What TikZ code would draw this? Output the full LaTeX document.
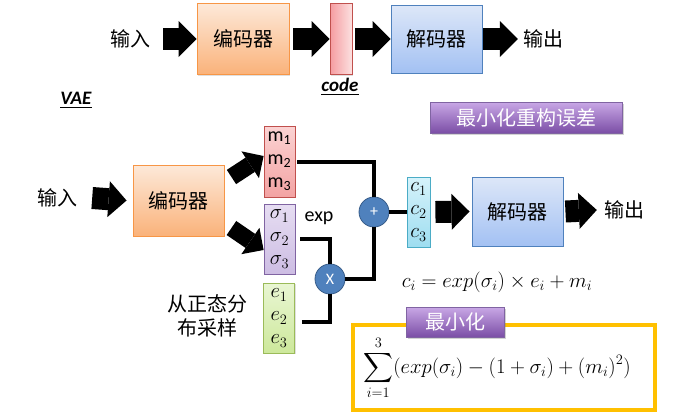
\documentclass[tikz,border=0pt]{standalone}
\usepackage{amsmath}
\usepackage{exscale}
\usepackage{fontspec}
\setmainfont{Carlito}
\newfontfamily\cjk{Noto Sans CJK SC}
\usetikzlibrary{arrows.meta,shadows}
\definecolor{encT}{HTML}{FDE9D9}
\definecolor{encBot}{HTML}{FAB27A}
\definecolor{encD}{HTML}{F79646}
\definecolor{decT}{HTML}{DDE7F8}
\definecolor{decBot}{HTML}{A3C1F3}
\definecolor{decD}{HTML}{4F81BD}
\definecolor{codeL}{HTML}{F59CA0}
\definecolor{codeR}{HTML}{FCE1E1}
\definecolor{codeD}{HTML}{C0504D}
\definecolor{mT}{HTML}{FBD3D3}
\definecolor{mBot}{HTML}{F3A3A3}
\definecolor{sT}{HTML}{E6DDF2}
\definecolor{sBot}{HTML}{CDBDE3}
\definecolor{sD}{HTML}{8064A2}
\definecolor{eT}{HTML}{E9F6D3}
\definecolor{eBot}{HTML}{CDE89B}
\definecolor{eD}{HTML}{9BBB59}
\definecolor{cT}{HTML}{D6F3FB}
\definecolor{cBot}{HTML}{9EDDF0}
\definecolor{cD}{HTML}{4BACC6}
\definecolor{circF}{HTML}{4F81BD}
\definecolor{circD}{HTML}{385D8A}
\definecolor{purT}{HTML}{C9A8E6}
\definecolor{purBot}{HTML}{7B4EA6}
\definecolor{purD}{HTML}{8064A2}
\definecolor{gold}{HTML}{FFC000}
\begin{document}
\begin{tikzpicture}[x=1pt,y=-1pt,
  zh/.style={font=\cjk\fontsize{20}{24}\selectfont, inner sep=0pt, align=center},
  lshadow/.style={drop shadow={opacity=0.25, shadow xshift=1.2pt, shadow yshift=-1.2pt}},
  encbox/.style={draw=encD, line width=0.9pt, top color=encT, bottom color=encBot, inner sep=0pt,
    font=\cjk\fontsize{20}{24}\selectfont, lshadow},
  decbox/.style={draw=decD, line width=0.9pt, top color=decT, bottom color=decBot, inner sep=0pt,
    font=\cjk\fontsize{20}{24}\selectfont, lshadow},
  vecbox/.style={line width=0.8pt, inner sep=0pt, align=center, minimum height=70pt,
    font=\fontsize{20}{23}\selectfont, lshadow},
  opnode/.style={circle, draw=circD, line width=0.8pt, fill=circF, text=white, inner sep=0pt,
    minimum size=30pt},
  tagbox/.style={draw=purD, line width=0.6pt, top color=purT, bottom color=purBot, text=white,
    inner sep=0pt, font=\cjk\fontsize{20}{24}\selectfont,
    drop shadow={opacity=0.35, shadow xshift=1.5pt, shadow yshift=-1.5pt}},
  conn/.style={line width=4pt, line join=miter},
  barrow/.style={line width=22pt, -{Triangle[length=18pt, width=36pt, line width=0pt]}},
  darrow/.style={line width=17pt, -{Triangle[length=16pt, width=32pt, line width=0pt]}}
]
\useasboundingbox[fill=white] (0,0) rectangle (682,413);

% ---------- top row ----------
\node[zh] (in1) at (130,39) {输入};
\node[encbox, minimum width=92pt, minimum height=71pt] (enc1) at (243,39) {编码器};
\node[draw=codeD, line width=0.9pt, left color=codeL, right color=codeR, inner sep=0pt,
      minimum width=22pt, minimum height=71pt, lshadow] (code) at (341,39) {};
\node[decbox, minimum width=91pt, minimum height=68pt] (dec1) at (436.5,39) {解码器};
\node[zh] (out1) at (543,39) {输出};
\node[inner sep=0pt, font=\fontsize{19}{22}\selectfont] (codelbl) at (340,87) {\underline{\textbf{\textit{code}}}};

\draw[barrow] ([shift={(13,0)}]in1.east) -- (enc1.west);
\draw[barrow] ([shift={(4,0)}]enc1.east) -- (code.west);
\draw[barrow] ([shift={(3,0)}]code.east) -- (dec1.west);
\draw[barrow] ([shift={(1,0)}]dec1.east) -- ([shift={(-5,0)}]out1.west);

% ---------- VAE ----------
\node[inner sep=0pt, font=\fontsize{19}{22}\selectfont] (vae) at (76,100) {\underline{\textbf{\textit{VAE}}}};
\node[tagbox, minimum width=192pt, minimum height=31pt] (goal) at (526,117.5) {最小化重构误差};

\node[zh] (in2) at (57,198) {输入};
\node[encbox, minimum width=91pt, minimum height=71pt] (enc2) at (178.5,200.5) {编码器};

\node[vecbox, draw=codeD, top color=mT, bottom color=mBot, minimum width=31pt, minimum height=71pt]
  (m) at (279.5,161.5) {m\textsubscript{1}\\m\textsubscript{2}\\m\textsubscript{3}};
\node[vecbox, draw=sD, top color=sT, bottom color=sBot, minimum width=31pt]
  (sig) at (279.5,239) {$\sigma_1$\\$\sigma_2$\\$\sigma_3$};
\node[vecbox, draw=eD, top color=eT, bottom color=eBot, minimum width=31pt]
  (e) at (279,318) {$e_1$\\$e_2$\\$e_3$};
\node[vecbox, draw=cD, top color=cT, bottom color=cBot, minimum width=23pt]
  (c) at (418.5,212) {$c_1$\\$c_2$\\$c_3$};

\node[opnode, font=\fontsize{16}{16}\selectfont] (plus) at (374,212) {+};
\node[opnode, font=\fontsize{16}{16}\selectfont] (mul) at (330,279) {X};
\node[inner sep=0pt, font=\fontsize{20}{24}\selectfont] (exp) at (319,218) {exp};

\node[decbox, minimum width=91pt, minimum height=69pt] (dec2) at (517.5,211.5) {解码器};
\node[zh] (out2) at (624,210) {输出};

\node[zh] (samp) at (207,316) {从正态分\\布采样};

\node[inner sep=0pt, font=\fontsize{20}{24}\selectfont] (f1) at (497,282)
  {$c_i = exp(\sigma_i)\times e_i + m_i$};

% arrows
\draw[barrow] ([shift={(15,0)}]in2.east) -- ([shift={(-6,0)}]enc2.west);
\draw[darrow] ([shift={(7,-23.5)}]enc2.east) -- ([shift={(0,-5.5)}]m.west);
\draw[darrow] ([shift={(7,27.5)}]enc2.east) -- ([shift={(0,11)}]sig.west);
\draw[barrow] ([shift={(5,0)}]c.east) -- ([shift={(-2,0)}]dec2.west);
\draw[barrow] ([shift={(2,0)}]dec2.east) -- ([shift={(-7,0)}]out2.west);

% connectors
\draw[conn] ([shift={(2,0)}]m.east) -| (plus.north);
\draw[conn] ([shift={(5,0)}]sig.east) -| (mul.north);
\draw[conn] ([shift={(7,4)}]e.east) -| (mul.south);
\draw[conn] (mul.east) -| (plus.south);
\draw[conn] (plus.east) -- (c.west);

% ---------- minimisation box ----------
\node[draw=gold, line width=4pt, minimum width=302pt, minimum height=85pt, inner sep=0pt]
  (ybox) at (504,367.5) {};
\node[inner sep=0pt, font=\fontsize{20}{24}\selectfont] (f2) at (497,368)
  {$\displaystyle\sum_{i=1}^{3}(exp(\sigma_i)-(1+\sigma_i)+(m_i)^2)$};
\node[tagbox, minimum width=98pt, minimum height=30pt] (mintag) at (455,322) {最小化};
\end{tikzpicture}
\end{document}
